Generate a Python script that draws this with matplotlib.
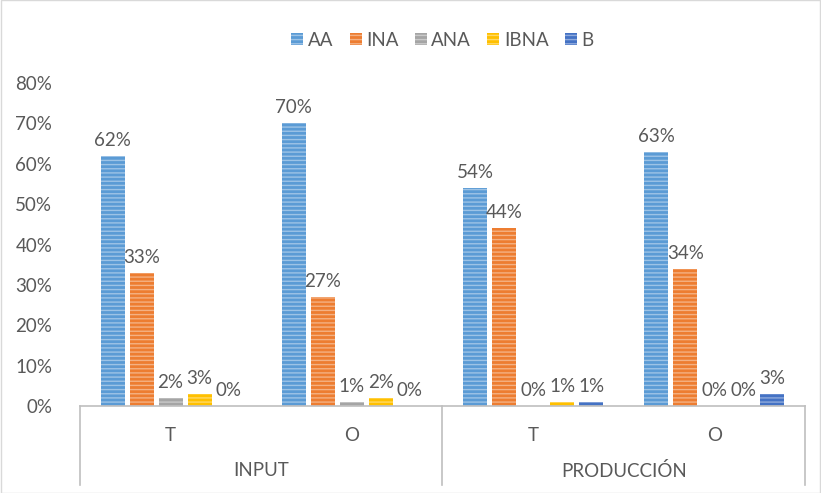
import matplotlib.pyplot as plt
import numpy as np
from matplotlib.patches import Rectangle
from matplotlib.transforms import blended_transform_factory

plt.rcParams['font.family'] = ['Lato', 'DejaVu Sans']
plt.rcParams['hatch.linewidth'] = 1.0

groups = ['INPUT', 'PRODUCCIÓN']
subcats = ['T', 'O', 'T', 'O']
series = ['AA', 'INA', 'ANA', 'IBNA', 'B']
values = {
    'AA':   [62, 70, 54, 63],
    'INA':  [33, 27, 44, 34],
    'ANA':  [2, 1, 0, 0],
    'IBNA': [3, 2, 1, 0],
    'B':    [0, 0, 1, 3],
}
colors = ['#5B9BD5', '#ED7D31', '#A5A5A5', '#FFC000', '#4472C4']
stripes = ['#9DC3E6', '#F4B183', '#C9C9C9', '#FFD966', '#8FAADC']
txt = '#595959'
fs = 13.5

fig = plt.figure(figsize=(8.21, 4.93), dpi=100)
ax = fig.add_axes([0.0974, 0.1765, 0.8831, 0.6551])

x = np.arange(len(subcats))
bw = 24 / 181.5
step = 29 / 181.5
for i, s in enumerate(series):
    pos = x + (i - 2) * step
    vals = np.array(values[s]) / 100
    bars = ax.bar(pos, vals, bw, color=colors[i], edgecolor=stripes[i],
                  linewidth=0, hatch='----', label=s)
    for b, v in zip(bars, values[s]):
        ax.annotate(f'{v}%', (b.get_x() + b.get_width() / 2, b.get_height()),
                    xytext=(0, 5), textcoords='offset points',
                    ha='center', va='bottom', fontsize=fs, color=txt)

ax.set_xlim(-0.5, 3.5)
ax.set_ylim(0, 0.8)
ticks = np.arange(0, 0.81, 0.1)
ax.set_yticks(ticks)
ax.set_yticklabels([f'{int(round(t * 100))}%' for t in ticks])
ax.tick_params(axis='y', length=0, pad=20, labelsize=fs, labelcolor=txt)
ax.set_xticks([])
for sp in ['left', 'right', 'top']:
    ax.spines[sp].set_visible(False)
ax.spines['bottom'].set_color('#BFBFBF')
ax.spines['bottom'].set_linewidth(1.2)

# two-level category axis
tr = blended_transform_factory(ax.transData, ax.transAxes)
for xi, lab in zip(x, subcats):
    ax.text(xi, -0.09, lab, transform=tr, ha='center', va='center',
            fontsize=fs, color=txt)
for gi, g in enumerate(groups):
    ax.text(gi * 2 + 0.5, -0.2, g, transform=tr, ha='center', va='center',
            fontsize=fs, color=txt)
for sx in [-0.5, 1.5, 3.5]:
    ax.plot([sx, sx], [0, -0.245], transform=tr, color='#BFBFBF', lw=1.2,
            clip_on=False)

leg = ax.legend(loc='center', bbox_to_anchor=(0.5, 1.133), ncol=5,
                frameon=False, fontsize=fs, handlelength=0.64,
                handleheight=0.64, handletextpad=0.25, columnspacing=0.85)
for t in leg.get_texts():
    t.set_color(txt)

fig.patches.append(Rectangle((0.001, 0.001), 0.998, 0.998, transform=fig.transFigure,
                             fill=False, edgecolor='#D9D9D9', lw=1))

fig.savefig('out.png', dpi=100)
